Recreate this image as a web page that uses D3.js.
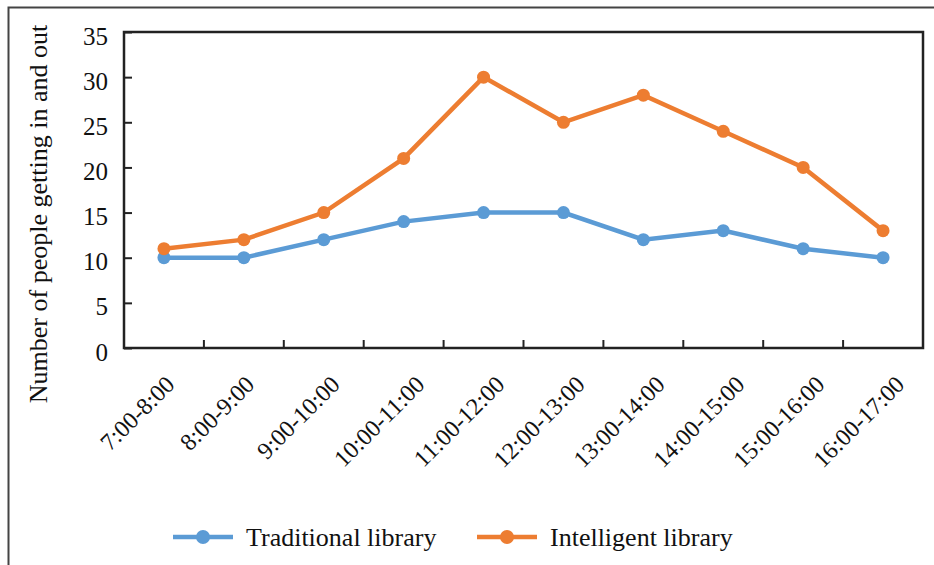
<!DOCTYPE html>
<html>
<head>
<meta charset="utf-8">
<script src="https://cdn.jsdelivr.net/npm/d3@7"></script>
<style>
  body { margin: 0; background: #fff; }
  svg text { font-family: "Liberation Serif", "Times New Roman", serif; fill: #111; }
</style>
</head>
<body>
<svg id="chart" width="934" height="565"></svg>
<script>
// chart data
var slots = ["7:00-8:00", "8:00-9:00", "9:00-10:00", "10:00-11:00", "11:00-12:00",
             "12:00-13:00", "13:00-14:00", "14:00-15:00", "15:00-16:00", "16:00-17:00"];
var traditional = [10, 10, 12, 14, 15, 15, 12, 13, 11, 10];
var intelligent = [11, 12, 15, 21, 30, 25, 28, 24, 20, 13];
var yTicks = [0, 5, 10, 15, 20, 25, 30, 35];
var seriesNames = ["Traditional library", "Intelligent library"];
var seriesColors = ["#5b9bd5", "#ed7d31"];

var svg = d3.select("#chart");
var plotL = 124, plotT = 32, plotR = 923, plotB = 348;

// outer frame (only left + top visible in original)
svg.append("path")
  .attr("d", "M8.5,565 V7.5 H934")
  .attr("fill", "none").attr("stroke", "#444").attr("stroke-width", 2);

var x = d3.scaleBand().domain(slots).range([plotL, plotR]);
var y = d3.scaleLinear().domain([0, 35]).range([plotB, plotT]);

// plot box
svg.append("rect")
  .attr("x", plotL).attr("y", plotT)
  .attr("width", plotR - plotL).attr("height", plotB - plotT)
  .attr("fill", "none").attr("stroke", "#222").attr("stroke-width", 2.5);

// y ticks, pointing inward
var yAxis = svg.append("g")
  .attr("transform", "translate(" + plotL + ",0)")
  .call(d3.axisRight(y).tickValues(yTicks).tickSize(8).tickFormat(""));
yAxis.select(".domain").remove();
yAxis.selectAll("line").attr("stroke", "#222").attr("stroke-width", 2);

svg.selectAll(".ylab").data(yTicks).enter().append("text")
  .attr("class", "ylab")
  .attr("x", plotL - 16)
  .attr("y", function(d) { return y(d); })
  .attr("dy", "0.5em")
  .attr("text-anchor", "end")
  .style("font-size", "25px")
  .text(function(d) { return d; });

// x ticks at band boundaries, pointing up
var bounds = slots.slice(1);
svg.selectAll(".xtick").data(bounds).enter().append("line")
  .attr("x1", function(d) { return x(d); })
  .attr("x2", function(d) { return x(d); })
  .attr("y1", plotB).attr("y2", plotB - 8)
  .attr("stroke", "#222").attr("stroke-width", 2);

var xlab = svg.selectAll(".xlab").data(slots).enter().append("text")
  .attr("class", "xlab")
  .attr("text-anchor", "end")
  .style("font-size", "24px")
  .text(function(d) { return d; });
// longer labels sit a little further right in the original
var w0 = xlab.node().getComputedTextLength();
xlab.attr("transform", function(d) {
  var w = this.getComputedTextLength();
  var ax = x(d) + x.bandwidth() / 2 + 12 + (w - w0) * 0.45;
  return "translate(" + ax + "," + (plotB + 38) + ") rotate(-45)";
});

// y axis title
svg.append("text")
  .attr("transform", "translate(47,214) rotate(-90)")
  .attr("text-anchor", "middle")
  .style("font-size", "26px")
  .text("Number of people getting in and out");

// series
var line = d3.line()
  .x(function(d, i) { return x(slots[i]) + x.bandwidth() / 2; })
  .y(function(d) { return y(d); });

[traditional, intelligent].forEach(function(vals, k) {
  svg.append("path")
    .datum(vals)
    .attr("d", line)
    .attr("fill", "none")
    .attr("stroke", seriesColors[k])
    .attr("stroke-width", 4.5);
  svg.selectAll(".pt" + k).data(vals).enter().append("circle")
    .attr("cx", function(d, i) { return x(slots[i]) + x.bandwidth() / 2; })
    .attr("cy", function(d) { return y(d); })
    .attr("r", 6.5)
    .attr("fill", seriesColors[k]);
});

// legend
var legendX = [173, 477];
seriesNames.forEach(function(name, k) {
  var g = svg.append("g").attr("transform", "translate(" + legendX[k] + ",537)");
  g.append("line").attr("x1", 0).attr("x2", 60).attr("y1", 0).attr("y2", 0)
    .attr("stroke", seriesColors[k]).attr("stroke-width", 4.5);
  g.append("circle").attr("cx", 30).attr("cy", 0).attr("r", 7).attr("fill", seriesColors[k]);
  g.append("text").attr("x", 73).attr("y", 0).attr("dy", "0.35em")
    .style("font-size", "26px").text(name);
});
</script>
</body>
</html>
